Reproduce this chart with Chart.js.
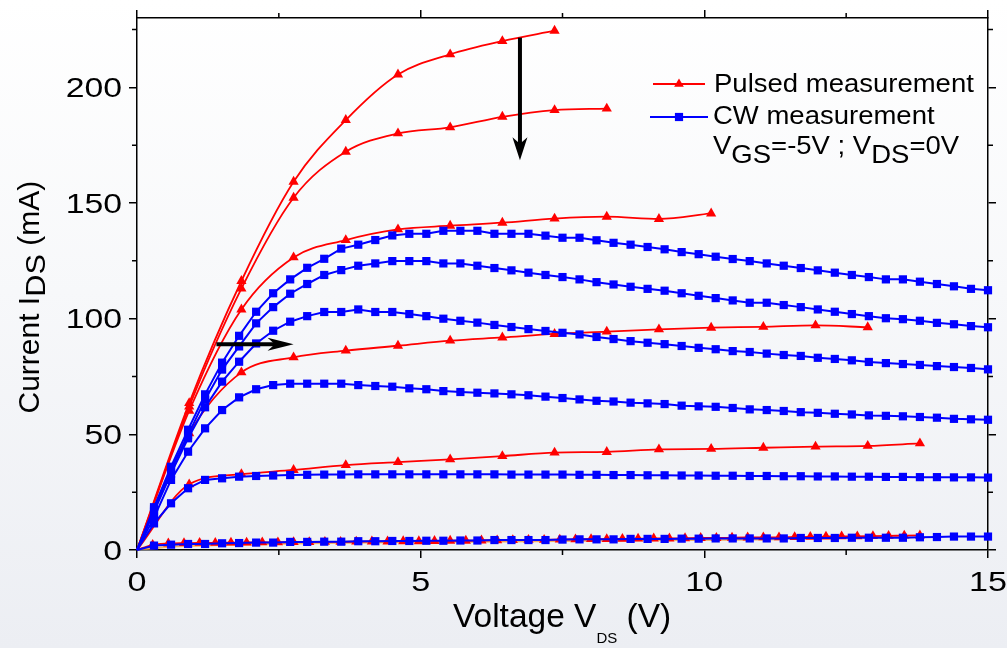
<!DOCTYPE html>
<html lang="en">
<head>
  <meta charset="UTF-8" />
  <title>Pulsed vs CW I-V</title>
  <script src="https://cdn.jsdelivr.net/npm/chart.js"></script>
  <style>
    html, body { margin: 0; padding: 0; }
    body {
      width: 1007px;
      height: 648px;
      overflow: hidden;
      background: linear-gradient(to bottom, #ffffff 0%, #f7f8fa 45%, #eceef3 100%);
    }
    #ivChart { display: block; }
  </style>
</head>
<body>
  <canvas id="ivChart" width="1007" height="648"></canvas>

  <script>
    // drain voltage grids (V)
    const pulsedV = [0, 0.92, 1.84, 2.76, 3.68, 4.6, 5.52, 6.44, 7.36, 8.28, 9.2, 10.12, 11.04, 11.96, 12.88, 13.8];
    const pulsedFineV = [0, 0.276, 0.552, 0.828, 1.104, 1.38, 1.656, 1.932, 2.208, 2.484, 2.76, 3.036, 3.312, 3.588, 3.864,
      4.14, 4.416, 4.692, 4.968, 5.244, 5.52, 5.796, 6.072, 6.348, 6.624, 6.9, 7.176, 7.452, 7.728, 8.004, 8.28, 8.556,
      8.832, 9.108, 9.384, 9.66, 9.936, 10.212, 10.488, 10.764, 11.04, 11.316, 11.592, 11.868, 12.144, 12.42, 12.696,
      12.972, 13.248, 13.524, 13.8];
    const cwV = [0, 0.3, 0.6, 0.9, 1.2, 1.5, 1.8, 2.1, 2.4, 2.7, 3, 3.3, 3.6, 3.9, 4.2, 4.5, 4.8, 5.1, 5.4, 5.7, 6, 6.3,
      6.6, 6.9, 7.2, 7.5, 7.8, 8.1, 8.4, 8.7, 9, 9.3, 9.6, 9.9, 10.2, 10.5, 10.8, 11.1, 11.4, 11.7, 12, 12.3, 12.6, 12.9,
      13.2, 13.5, 13.8, 14.1, 14.4, 14.7, 15];

    // pulsed drain current (mA), one array per gate voltage
    const pulsedA = [0, 63.5, 116.3, 159.2, 185.9, 205.6, 214.3, 220.0, 224.5];
    const pulsedB = [0, 62, 113, 152.3, 172.2, 180.1, 182.7, 187.3, 190.2, 190.8];
    const pulsedC = [0, 60.2, 104.0, 126.5, 134.0, 138.6, 140.2, 141.5, 143.3, 144.1, 143.1, 145.5];
    const pulsedD = [0, 50.4, 76.8, 83.3, 86.2, 88.3, 90.5, 91.9, 93.4, 94.4, 95.4, 96.1, 96.5, 97.1, 96.3];
    const pulsedE = [0, 28.4, 32.8, 34.6, 36.7, 38.0, 39.2, 40.6, 42.1, 42.4, 43.5, 43.7, 44.2, 44.7, 45.0, 46.1];
    const pulsedF = [0, 2.2, 2.8, 3.0, 3.1, 3.1, 3.2, 3.2, 3.3, 3.3, 3.4, 3.4, 3.5, 3.5, 3.6, 3.7, 3.7, 3.8, 3.8, 3.9,
      4.0, 4.0, 4.1, 4.2, 4.3, 4.4, 4.4, 4.5, 4.6, 4.7, 4.7, 4.8, 4.9, 5.0, 5.0, 5.1, 5.2, 5.2, 5.3, 5.4,
      5.5, 5.5, 5.6, 5.7, 5.8, 5.9, 5.9, 6.0, 6.1, 6.2, 6.3];

    // CW drain current (mA)
    const cw1 = [0, 18.5, 36, 52, 67.3, 81, 92.6, 103, 111, 117, 122, 125.9, 130.3, 132, 134, 136, 136.7, 136.7, 138, 138,
      138, 136.7, 136.7, 136.7, 135.9, 135, 135, 133.9, 132.8, 132, 131, 130, 128.8, 127.9, 126.8, 125.8, 124.9, 123.9,
      122.9, 121.9, 120.9, 119.9, 118.9, 118, 117, 117, 116, 115, 114, 112.9, 112.3];
    const cw2 = [0, 17.5, 34.6, 49.7, 65, 78, 88, 98, 105, 110.8, 115, 118.9, 121, 122.9, 123.9, 124.9, 124.9, 124.9,
      123.9, 123.9, 122.9, 121.9, 120.9, 119.9, 118.9, 118, 117, 115.8, 114.8, 113.8, 112.9, 112.1, 111, 109.9, 108.9,
      107.9, 106.9, 106.9, 105.9, 105, 104, 103, 102, 101.1, 100.2, 99.8, 99.1, 98.2, 97.6, 96.8, 96.3];
    const cw3 = [0, 16.6, 33, 48.3, 61.7, 72.8, 81.4, 89.3, 94.8, 98.7, 101.1, 102.9, 102.9, 104, 102.9, 102.9, 102,
      101.1, 100, 99.1, 98.3, 97.3, 96.4, 95.5, 94.7, 93.9, 93.2, 92.1, 91.2, 90.3, 89.6, 89, 88.2, 87.4, 86.8, 86, 85.6,
      84.9, 84.3, 83.9, 83.1, 82.6, 82, 81.3, 80.8, 80.4, 80, 79.5, 79.1, 78.7, 78.1];
    const cw4 = [0, 14, 30.3, 42.5, 52.6, 60.5, 66, 69.5, 71.3, 71.9, 71.9, 71.9, 71.9, 71.3, 70.9, 70.6, 69.9, 69.5,
      68.7, 68.3, 68, 67.7, 67.3, 66.9, 66.3, 65.7, 65.1, 64.5, 64.2, 63.7, 63.4, 63.1, 62.4, 62.1, 61.9, 61.4, 60.8,
      60.5, 60.1, 59.6, 59.3, 58.9, 58.6, 58.2, 58, 57.8, 57.5, 57.2, 56.7, 56.5, 56.3];
    const cw5 = [0, 11.5, 20.2, 26.7, 30.3, 31, 31.7, 32, 32.2, 32.4, 32.5, 32.6, 32.6, 32.7, 32.7, 32.7, 32.7, 32.7,
      32.7, 32.7, 32.7, 32.7, 32.6, 32.6, 32.6, 32.6, 32.5, 32.5, 32.4, 32.4, 32.3, 32.3, 32.2, 32.2, 32.1, 32.1, 32.0,
      32.0, 31.9, 31.9, 31.8, 31.8, 31.7, 31.7, 31.6, 31.6, 31.5, 31.5, 31.4, 31.4, 31.3];
    const cw6 = [0, 1.9, 2.3, 2.6, 2.6, 2.9, 3.0, 3.2, 3.2, 3.5, 3.5, 3.6, 3.6, 3.8, 3.8, 3.9, 3.9, 4.0, 4.0, 4.1, 4.1,
      4.3, 4.3, 4.3, 4.3, 4.5, 4.6, 4.6, 4.6, 4.8, 4.8, 4.8, 4.9, 4.9, 5.0, 5.0, 5.0, 5.0, 5.0, 5.2, 5.2, 5.2, 5.3, 5.3,
      5.3, 5.3, 5.5, 5.6, 5.8, 5.8, 5.8];

    // faint reference trace under the pinched-off curves
    const offV = [0, 0.6, 1.5, 3, 4.5, 6, 7.5, 9, 10.5, 11.4];
    const offI = [0, 1.5, 2.2, 2.9, 3.3, 3.6, 3.9, 4.2, 4.4, 4.6];

    const xMajor = [0, 5, 10, 15];
    const xMinor = [2.5, 7.5, 12.5];
    const yMajor = [0, 50, 100, 150, 200];
    const yMinor = [25, 75, 125, 175, 225];

    const RED = '#ff0000';
    const BLUE = '#0000ff';
    const FONT = '"Liberation Sans", Arial, Helvetica, sans-serif';

    function pts(xs, ys) {
      return ys.map((v, i) => ({ x: xs[i], y: v }));
    }

    const noOrigin = r => c => (c.raw && c.raw.x === 0 ? 0 : r);

    function pulsed(ys, xs) {
      return {
        data: pts(xs || pulsedV, ys),
        borderColor: RED,
        backgroundColor: RED,
        borderWidth: 1.8,
        pointStyle: 'triangle',
        pointRadius: noOrigin(5.9),
        pointBorderWidth: 0,
        showLine: true,
        cubicInterpolationMode: 'monotone',
        order: 1,
        clip: 6
      };
    }

    function cw(ys) {
      return {
        data: pts(cwV, ys),
        borderColor: BLUE,
        backgroundColor: BLUE,
        borderWidth: 2,
        pointStyle: 'rect',
        pointRadius: noOrigin(5.8),
        pointBorderWidth: 0,
        showLine: true,
        tension: 0,
        order: 0,
        clip: 6
      };
    }

    const datasets = [
      {
        data: pts(offV, offI),
        borderColor: 'rgba(245, 160, 60, 0.8)',
        borderWidth: 2,
        pointRadius: 0,
        showLine: true,
        order: 2
      },
      pulsed(pulsedA), pulsed(pulsedB), pulsed(pulsedC), pulsed(pulsedD), pulsed(pulsedE),
      pulsed(pulsedF, pulsedFineV),
      cw(cw1), cw(cw2), cw(cw3), cw(cw4), cw(cw5), cw(cw6)
    ];

    function keepTicks(list) {
      return scale => { scale.ticks = list.map(v => ({ value: v })); };
    }

    function fixSize(prop, px) {
      return scale => { scale[prop] = px; };
    }

    const edge = {
      grid: { display: true, drawOnChartArea: false, drawTicks: true, tickLength: 8, color: '#000', lineWidth: 1.5 },
      border: { display: true, color: '#000', width: 1.5 }
    };

    // text with an optional horizontal stretch, returns its advance
    function putText(ctx, s, x, y, size, sx) {
      ctx.save();
      ctx.translate(x, y);
      ctx.scale(sx, 1);
      ctx.font = size + 'px ' + FONT;
      ctx.fillText(s, 0, 0);
      const w = ctx.measureText(s).width * sx;
      ctx.restore();
      return w;
    }

    function arrow(ctx, x1, y1, x2, y2, len, half) {
      const a = Math.atan2(y2 - y1, x2 - x1);
      ctx.save();
      ctx.translate(x2, y2);
      ctx.rotate(a);
      const d = Math.hypot(x2 - x1, y2 - y1);
      ctx.lineWidth = 4;
      ctx.beginPath();
      ctx.moveTo(-d, 0);
      ctx.lineTo(-len * 0.7, 0);
      ctx.stroke();
      ctx.beginPath();
      ctx.moveTo(0, 0);
      ctx.lineTo(-len, -half);
      ctx.lineTo(-len * 0.72, 0);
      ctx.lineTo(-len, half);
      ctx.closePath();
      ctx.fill();
      ctx.restore();
    }

    const decorations = {
      id: 'decorations',
      afterDraw(chart) {
        const ctx = chart.ctx;
        const xs = chart.scales.x;
        const ys = chart.scales.y;
        const area = chart.chartArea;
        ctx.save();
        ctx.fillStyle = '#000';
        ctx.strokeStyle = '#000';

        // minor ticks on all four sides
        ctx.lineWidth = 1.5;
        ctx.beginPath();
        xMinor.forEach(v => {
          const px = xs.getPixelForValue(v);
          ctx.moveTo(px, area.bottom); ctx.lineTo(px, area.bottom + 5);
          ctx.moveTo(px, area.top); ctx.lineTo(px, area.top - 5);
        });
        yMinor.forEach(v => {
          const py = ys.getPixelForValue(v);
          ctx.moveTo(area.left, py); ctx.lineTo(area.left - 5, py);
          ctx.moveTo(area.right, py); ctx.lineTo(area.right + 5, py);
        });
        ctx.stroke();

        // tick labels
        ctx.textBaseline = 'alphabetic';
        xMajor.forEach(v => {
          const px = xs.getPixelForValue(v);
          const s = String(v);
          ctx.font = '28px ' + FONT;
          const w = ctx.measureText(s).width * 1.22;
          putText(ctx, s, px - w / 2, 591, 28, 1.22);
        });
        yMajor.forEach(v => {
          const py = ys.getPixelForValue(v);
          const s = String(v);
          ctx.font = '27px ' + FONT;
          const w = ctx.measureText(s).width * 1.25;
          putText(ctx, s, 122 - w, py + 9.7, 27, 1.25);
        });

        // x title: Voltage V_DS (V)
        let x0 = 453;
        x0 += putText(ctx, 'Voltage V', x0, 627, 33.5, 1);
        x0 += putText(ctx, 'DS', x0, 643, 15, 1);
        putText(ctx, ' (V)', x0, 627, 33.5, 1);

        // y title: Current I_DS (mA), rotated
        ctx.save();
        ctx.translate(38.5, 413.5);
        ctx.rotate(-Math.PI / 2);
        let t = 0;
        t += putText(ctx, 'Current I', t, 0, 30, 1);
        t += putText(ctx, 'DS', t, 6.5, 28, 1.1);
        putText(ctx, ' (mA)', t, 0, 30, 1);
        ctx.restore();

        // legend
        ctx.lineWidth = 1.8;
        ctx.strokeStyle = RED;
        ctx.fillStyle = RED;
        ctx.beginPath(); ctx.moveTo(653, 84); ctx.lineTo(705, 84); ctx.stroke();
        Chart.helpers.drawPoint(ctx, { pointStyle: 'triangle', radius: 5.6, rotation: 0, borderWidth: 0 }, 679, 84);
        ctx.lineWidth = 2;
        ctx.strokeStyle = BLUE;
        ctx.fillStyle = BLUE;
        ctx.beginPath(); ctx.moveTo(650, 117); ctx.lineTo(708, 117); ctx.stroke();
        Chart.helpers.drawPoint(ctx, { pointStyle: 'rect', radius: 5.8, rotation: 0, borderWidth: 0 }, 679, 117);

        ctx.fillStyle = '#000';
        putText(ctx, 'Pulsed measurement', 714, 92, 25, 1.1);
        putText(ctx, 'CW measurement', 713, 124, 25, 1.1);
        let l = 713;
        l += putText(ctx, 'V', l, 153.5, 25, 1.1);
        l += putText(ctx, 'GS', l, 163, 25, 1.1);
        l += putText(ctx, '=-5V ; V', l, 153.5, 25, 1.1);
        l += putText(ctx, 'DS', l, 163, 25, 1.1);
        putText(ctx, '=0V', l, 153.5, 25, 1.1);

        // arrows showing the pulsed-to-CW shift
        ctx.fillStyle = '#000';
        ctx.strokeStyle = '#000';
        arrow(ctx, xs.getPixelForValue(6.75), ys.getPixelForValue(221.5),
          xs.getPixelForValue(6.75), ys.getPixelForValue(168.5), 23, 7.5);
        arrow(ctx, xs.getPixelForValue(1.4), ys.getPixelForValue(89),
          xs.getPixelForValue(2.76), ys.getPixelForValue(89), 26, 6.5);

        ctx.restore();
      }
    };

    new Chart(document.getElementById('ivChart').getContext('2d'), {
      type: 'scatter',
      data: { datasets },
      options: {
        responsive: false,
        animation: false,
        devicePixelRatio: 1,
        layout: { padding: 0 },
        plugins: { legend: { display: false }, tooltip: { enabled: false } },
        scales: {
          x: {
            type: 'linear', position: 'bottom', min: 0, max: 15,
            ticks: { display: false },
            afterBuildTicks: keepTicks(xMajor),
            afterFit: fixSize('height', 98),
            ...edge
          },
          x2: {
            type: 'linear', position: 'top', min: 0, max: 15,
            ticks: { display: false },
            afterBuildTicks: keepTicks(xMajor),
            afterFit: fixSize('height', 18),
            ...edge
          },
          y: {
            type: 'linear', position: 'left', min: 0, max: 230,
            ticks: { display: false },
            afterBuildTicks: keepTicks(yMajor),
            afterFit: fixSize('width', 137),
            ...edge
          },
          y2: {
            type: 'linear', position: 'right', min: 0, max: 230,
            ticks: { display: false },
            afterBuildTicks: keepTicks(yMajor),
            afterFit: fixSize('width', 19),
            ...edge
          }
        }
      },
      plugins: [decorations]
    });
  </script>
</body>
</html>
